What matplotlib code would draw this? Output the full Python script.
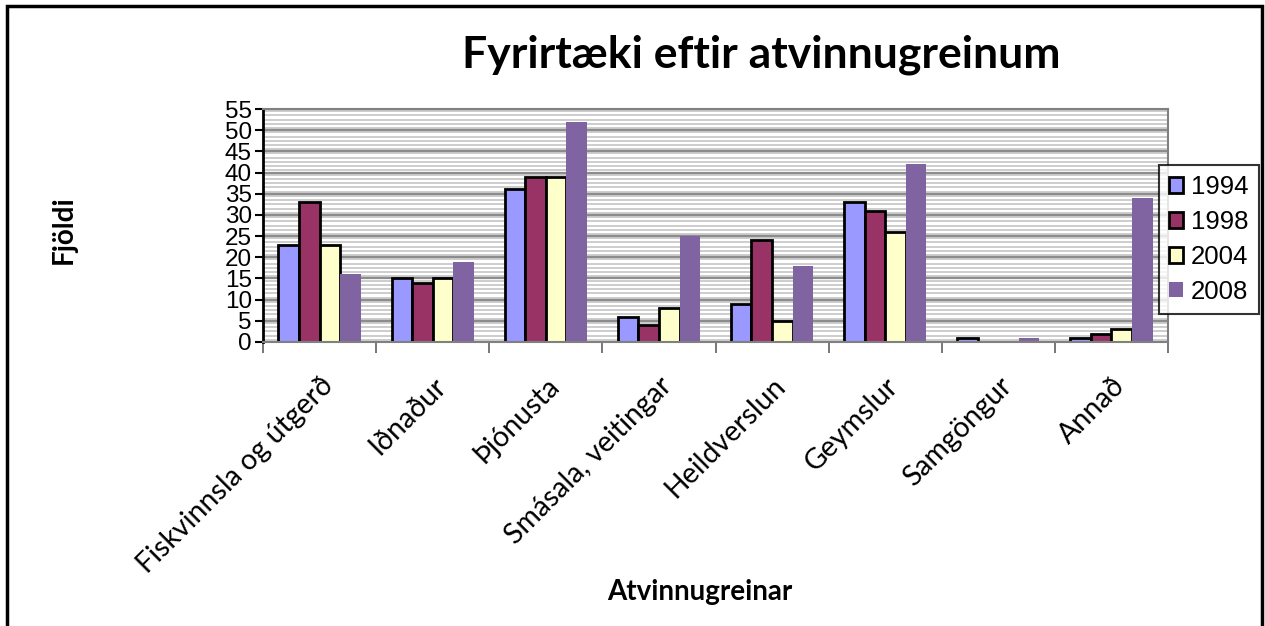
import numpy as np
import matplotlib
matplotlib.use("Agg")
from matplotlib import pyplot as plt
from matplotlib.patches import Rectangle

## DATA
categories = ["Fiskvinnsla og útgerð", "Iðnaður", "Þjónusta", "Smásala, veitingar",
              "Heildverslun", "Geymslur", "Samgöngur", "Annað"]
years = ["1994", "1998", "2004", "2008"]
v1994 = [23, 15, 36, 6, 9, 33, 1, 1]
v1998 = [33, 14, 39, 4, 24, 31, 0, 2]
v2004 = [23, 15, 39, 8, 5, 26, 0, 3]
v2008 = [16, 19, 52, 25, 18, 42, 1, 34]
series = [v1994, v1998, v2004, v2008]
colors = ["#9999FF", "#993366", "#FFFFCC", "#8064A2"]
edges = ["black", "black", "black", "none"]

## FIGURE
fig = plt.figure(figsize=(12.65, 6.26), dpi=100)
ax = fig.add_axes([263 / 1265, 1 - 342 / 626, (1168 - 263) / 1265, (342 - 109) / 626])

#### striped background
for y in np.arange(0.5, 55, 1.0):
    ax.axhline(y, color="#c0c0c0", lw=1.1, zorder=0)
for y in range(5, 56, 5):
    ax.axhline(y, color="#8c8c8c", lw=1.6, zorder=0.5)

#### BARS
x = np.arange(len(categories))
w = 1 / 5.5
for i, (vals, c, e) in enumerate(zip(series, colors, edges)):
    ax.bar(x + (i - 1.5) * w, vals, width=w, color=c, edgecolor=e,
           linewidth=2 if e != "none" else 0, label=years[i], zorder=2)

## AXES
ax.set_xlim(-0.5, 7.5)
ax.set_ylim(0, 55)
ax.set_yticks(range(0, 56, 5))
ax.set_yticklabels([str(v) for v in range(0, 56, 5)], fontsize=17.5,
                   family="Liberation Sans")
ax.tick_params(axis="y", length=6, width=1.5, pad=2)
ax.set_xticks(np.arange(-0.5, 8, 1), minor=False)
ax.set_xticklabels([])
ax.tick_params(axis="x", length=8, width=1.2, color="#606060")
ax.set_xticks(x, minor=True)
ax.set_xticklabels(categories, minor=True, rotation=45, ha="right", va="top",
                   rotation_mode="anchor", fontsize=20.5, family="Lato")
ax.tick_params(axis="x", which="minor", length=0, pad=22)

ax.spines["left"].set_linewidth(2)
ax.spines["left"].set_color("black")
for s in ["top", "right", "bottom"]:
    ax.spines[s].set_color("#808080")
    ax.spines[s].set_linewidth(1.5)

fig.text(64 / 1265, 1 - 230 / 626, "Fjöldi", fontsize=20, fontweight="bold",
         family="Lato", ha="center", va="center", rotation=90)
fig.text(700 / 1265, 1 - 592 / 626, "Atvinnugreinar", fontsize=20, fontweight="bold",
         family="Lato", ha="center", va="center")
fig.text(761 / 1265, 1 - 55 / 626, "Fyrirtæki eftir atvinnugreinum", fontsize=32,
         fontweight="bold", family="Lato", ha="center", va="center")

#### LEGEND
leg = ax.legend(loc="upper left", bbox_to_anchor=(1159 / 1265, 1 - 165 / 626),
                bbox_transform=fig.transFigure, prop={"family": "Liberation Sans", "size": 18.5},
                frameon=True, fancybox=False, handlelength=0.55, handleheight=0.55,
                handletextpad=0.3, labelspacing=0.42, borderpad=0.4, borderaxespad=0)
leg.get_frame().set_edgecolor("black")
leg.get_frame().set_linewidth(1.5)

#### outer border
fig.patches.append(Rectangle((7 / 1265, -0.05), (1262 - 7) / 1265, 1.05 - 6 / 626,
                             transform=fig.transFigure, fill=False, edgecolor="black",
                             lw=2.5, clip_on=False))

fig.savefig("out.png", dpi=100)
